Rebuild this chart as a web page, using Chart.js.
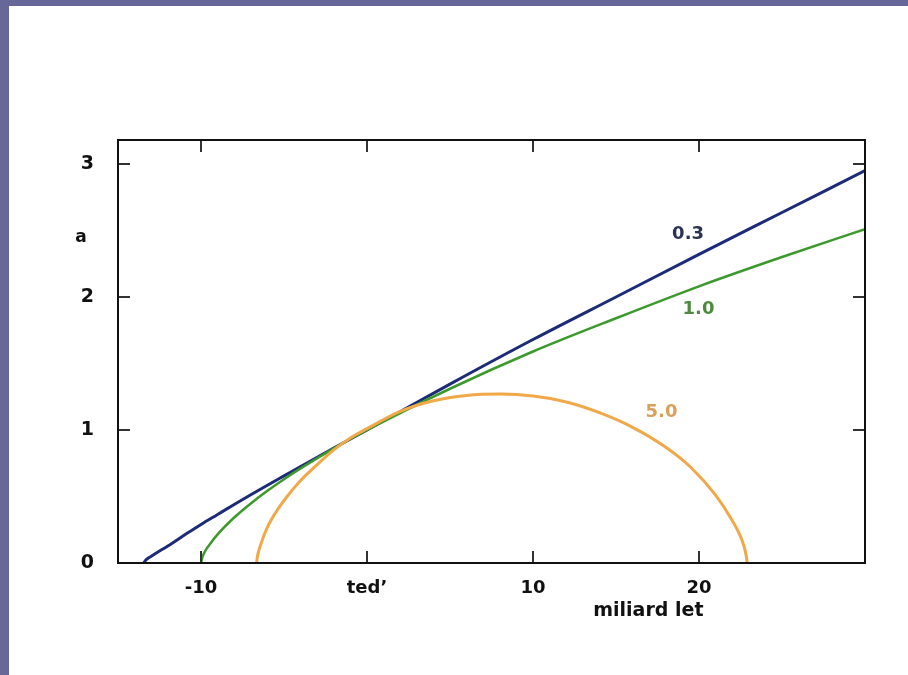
<!DOCTYPE html>
<html>
<head>
<meta charset="utf-8">
<script src="https://cdn.jsdelivr.net/npm/chart.js@4.4.1/dist/chart.umd.min.js"></script>
<style>
    html, body { margin: 0; padding: 0; background: #67679a; width: 908px; height: 675px; overflow: hidden; }
    #wrap { position: absolute; left: 9px; top: 6px; width: 899px; height: 669px; background: #fff; }
</style>
</head>
<body>
<div id="wrap"><canvas id="scaleFactorChart" width="899" height="669"></canvas></div>
<script>
// ==================== DATA ====================

const xTicks = [-10, 0, 10, 20];
const yTicks = [0, 1, 2, 3];
const nowLabel = 'ted’';
const curveNames = ['0.3', '1.0', '5.0'];

// omega = 0.3 (navy)
const lowTime = [-13.46, -13.3, -13, -12.5, -12, -11, -10, -9, -8, -7, -6, -5, -4, -3, -2, -1, 0, 5, 10, 15, 20, 25, 30];
const lowA    = [0, 0.025, 0.05, 0.09, 0.128, 0.21, 0.29, 0.365, 0.44, 0.513, 0.585, 0.655, 0.725, 0.795, 0.864, 0.932, 1.0, 1.345, 1.68, 2.0, 2.32, 2.635, 2.95];

// omega = 1.0 (green)
const flatTime = [-10, -9.9, -9.7, -9.5, -9, -8, -7, -6, -5, -4, -2, 0, 5, 10, 15, 20, 25, 30];
const flatA    = [0, 0.05, 0.1, 0.136, 0.215, 0.342, 0.448, 0.543, 0.63, 0.711, 0.862, 1.0, 1.31, 1.59, 1.84, 2.08, 2.3, 2.51];

// omega = 5.0 (orange)
const highTime = [-6.65, -6.6, -6.4, -6, -5.5, -5, -4, -3, -2, -1, 0, 2, 4, 6, 8.1, 10, 12, 14, 16, 18, 19.5, 21, 22, 22.5, 22.7, 22.85, 22.9];
const highA    = [0, 0.05, 0.14, 0.27, 0.38, 0.47, 0.62, 0.74, 0.85, 0.94, 1.01, 1.14, 1.22, 1.26, 1.27, 1.255, 1.21, 1.13, 1.02, 0.87, 0.72, 0.51, 0.32, 0.2, 0.13, 0.05, 0];

const toPoints = (xs, ys) => xs.map((x, i) => ({ x: x, y: ys[i] }));

// ==================== FRAME, TICKS, LABELS ====================

const framePlugin = {
    id: 'framePlugin',
    afterDraw(chart) {
        const { ctx, chartArea: area, scales } = chart;
        const xs = scales.x, ys = scales.y;
        ctx.save();

        // inward tick marks on all four sides
        ctx.strokeStyle = '#333';
        ctx.lineWidth = 2;
        const len = 12;
        ctx.beginPath();
        xTicks.forEach(v => {
            const px = Math.round(xs.getPixelForValue(v));
            ctx.moveTo(px, area.bottom); ctx.lineTo(px, area.bottom - len);
            ctx.moveTo(px, area.top); ctx.lineTo(px, area.top + len);
        });
        yTicks.forEach(v => {
            const py = Math.round(ys.getPixelForValue(v));
            if (v === 0) return;
            ctx.moveTo(area.left, py); ctx.lineTo(area.left + len, py);
            ctx.moveTo(area.right, py); ctx.lineTo(area.right - len, py);
        });
        ctx.stroke();

        // frame
        ctx.strokeStyle = '#111';
        ctx.lineWidth = 2;
        ctx.strokeRect(area.left, area.top, area.right - area.left, area.bottom - area.top);

        // curve labels (data coordinates)
        const anchors = [
            { x: 19.34, y: 2.47, color: '#2b3352' },
            { x: 19.97, y: 1.91, color: '#4d8a3d' },
            { x: 17.74, y: 1.135, color: '#d9a05a' }
        ];
        ctx.font = 'bold 18px "DejaVu Sans"';
        ctx.textAlign = 'center';
        ctx.textBaseline = 'middle';
        curveNames.forEach((name, i) => {
            ctx.fillStyle = anchors[i].color;
            ctx.fillText(name, xs.getPixelForValue(anchors[i].x), ys.getPixelForValue(anchors[i].y));
        });

        // axis titles
        ctx.fillStyle = '#111';
        ctx.font = 'bold 17px "DejaVu Sans"';
        ctx.fillText('a', area.left - 37, ys.getPixelForValue(2.45));
        ctx.font = 'bold 19px "DejaVu Sans"';
        ctx.fillText('miliard let', xs.getPixelForValue(16.95), area.bottom + 48);

        ctx.restore();
    }
};

// ==================== CHART ====================

function setupScaleFactorChart() {
    const ctx = document.getElementById('scaleFactorChart');
    if (!ctx) return;

    const line = (label, pts, color, width) => ({
        label: label,
        data: pts,
        borderColor: color,
        borderWidth: width,
        pointRadius: 0,
        fill: false,
        cubicInterpolationMode: 'monotone'
    });

    new Chart(ctx, {
        type: 'line',
        data: {
            datasets: [
                line(curveNames[2], toPoints(highTime, highA), '#f0a848', 3),
                line(curveNames[1], toPoints(flatTime, flatA), '#3c9a2c', 2.5),
                line(curveNames[0], toPoints(lowTime, lowA), '#1c2a78', 3)
            ]
        },
        options: {
            responsive: false,
            animation: false,
            layout: { padding: { left: 0, top: 134, right: 43, bottom: 0 } },
            plugins: {
                legend: { display: false },
                tooltip: { enabled: false }
            },
            scales: {
                x: {
                    type: 'linear',
                    min: -15,
                    max: 30,
                    grid: { display: false },
                    border: { display: false },
                    afterBuildTicks: scale => { scale.ticks = xTicks.map(v => ({ value: v })); },
                    afterFit: scale => { scale.height = 112; },
                    ticks: {
                        padding: 7,
                        color: '#111',
                        font: { family: 'DejaVu Sans', size: 18, weight: 'bold' },
                        callback: v => (v === 0 ? nowLabel : String(v))
                    }
                },
                y: {
                    type: 'linear',
                    min: 0,
                    max: 3.18,
                    grid: { display: false },
                    border: { display: false },
                    afterBuildTicks: scale => { scale.ticks = yTicks.map(v => ({ value: v })); },
                    afterFit: scale => { scale.width = 109; },
                    ticks: {
                        padding: 16,
                        color: '#111',
                        font: { family: 'DejaVu Sans', size: 19, weight: 'bold' },
                        callback: v => String(v)
                    }
                }
            }
        },
        plugins: [framePlugin]
    });
}

document.addEventListener('DOMContentLoaded', setupScaleFactorChart);
</script>
</body>
</html>
